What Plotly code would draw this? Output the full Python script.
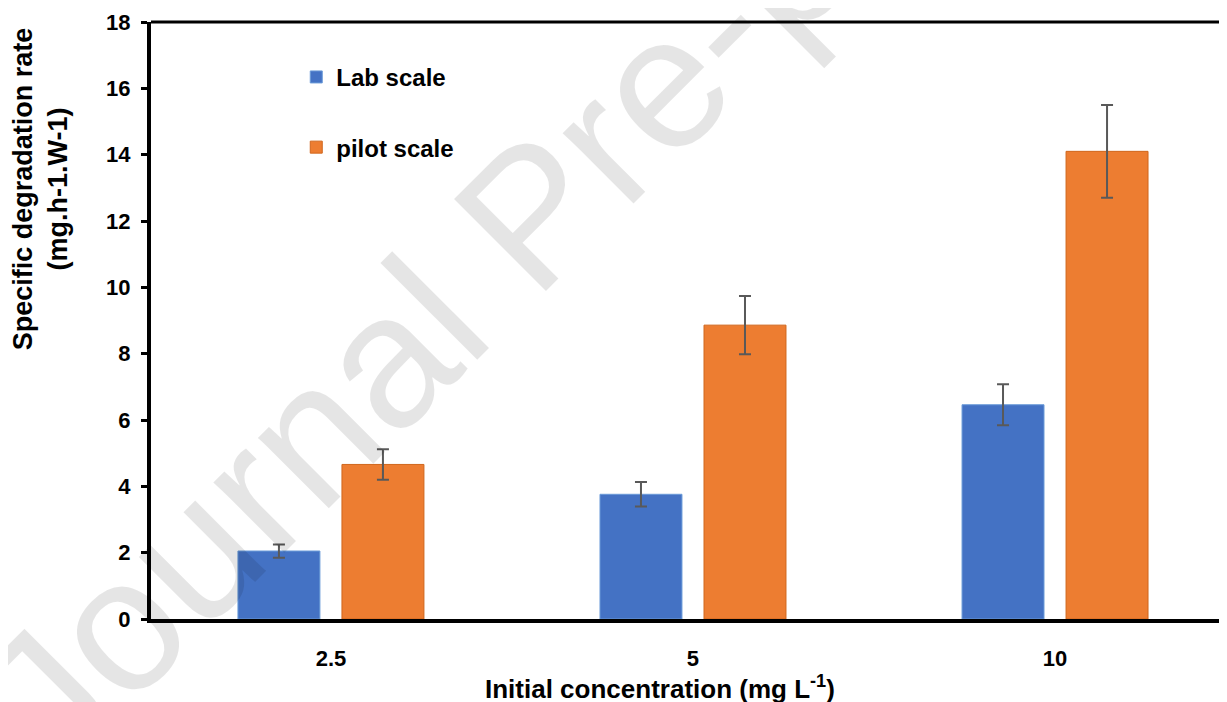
import plotly.graph_objects as go

categories = ["2.5", "5", "10"]
lab_values = [2.05, 3.76, 6.46]
lab_errors = [0.2, 0.37, 0.62]
pilot_values = [4.66, 8.86, 14.1]
pilot_errors = [0.46, 0.88, 1.4]
y_ticks = [0, 2, 4, 6, 8, 10, 12, 14, 16, 18]

FONT = "Liberation Sans, Arial, sans-serif"

fig = go.Figure()
fig.add_trace(go.Bar(
    x=categories, y=lab_values, name="Lab scale", legendgroup="lab",
    marker=dict(color="#4472C4", line=dict(color="#6A9BD8", width=1)),
    error_y=dict(type="data", array=lab_errors, color="#595959", thickness=2, width=6),
))
fig.add_trace(go.Bar(
    x=categories, y=pilot_values, name="pilot scale", legendgroup="pilot",
    marker=dict(color="#ED7D31", line=dict(color="#D0661C", width=1)),
    error_y=dict(type="data", array=pilot_errors, color="#595959", thickness=2, width=6),
))

# page body has an 8px margin, so the figure is sized to fill the rest of the window
fig.update_layout(
    width=1219, height=694,
    margin=dict(l=143, r=0, t=14, b=83),
    paper_bgcolor="white", plot_bgcolor="white",
    barmode="group", bargap=0.4254, bargroupgap=0.212,
    font=dict(family=FONT, color="black"),
    showlegend=True,
    legend=dict(x=0.135, y=0.945, xanchor="left", yanchor="top",
                bgcolor="rgba(0,0,0,0)", tracegroupgap=36,
                font=dict(family=FONT, size=24, weight="bold", color="black")),
    xaxis=dict(type="category", range=[-0.497, 2.475], showline=True, linecolor="black",
               linewidth=4, ticks="", showgrid=False, zeroline=False,
               ticklabelstandoff=17,
               tickfont=dict(family=FONT, size=22, weight="bold", color="black")),
    yaxis=dict(range=[0, 18], tickvals=y_ticks, showline=True, linecolor="black",
               linewidth=4, ticks="outside", ticklen=6, tickwidth=3, tickcolor="black",
               showgrid=False, zeroline=False, ticklabelstandoff=6,
               tickfont=dict(family=FONT, size=22, weight="bold", color="black")),
)

fig.add_shape(type="line", xref="paper", yref="paper", x0=0, x1=1, y0=1, y1=1,
              line=dict(color="black", width=3))

fig.add_annotation(text="Specific degradation rate<br>(mg.h-1.W-1)", textangle=-90,
                   xref="paper", yref="paper", x=-0.103, y=0.72, showarrow=False,
                   xanchor="center", yanchor="middle",
                   font=dict(family=FONT, size=27, weight="bold", color="black"))
fig.add_annotation(text="Initial concentration (mg L<sup>-1</sup>)",
                   xref="paper", yref="paper", x=0.473, y=-0.115, showarrow=False,
                   xanchor="center", yanchor="middle",
                   font=dict(family=FONT, size=26, weight="bold", color="black"))
fig.add_annotation(text="Journal Pre-proof", textangle=-45,
                   xref="paper", yref="paper", x=0.352, y=0.678, showarrow=False,
                   xanchor="center", yanchor="middle",
                   font=dict(family=FONT, size=189, color="rgba(0,0,0,0.1)"))

fig.write_html("out.html")
